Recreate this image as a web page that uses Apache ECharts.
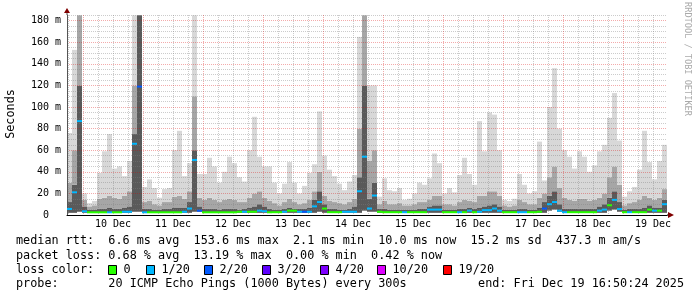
<!DOCTYPE html>
<html><head><meta charset="utf-8">
<script src="https://cdn.jsdelivr.net/npm/echarts@6/dist/echarts.min.js"></script>
<style>html,body{margin:0;padding:0;background:#fff}#c{width:697px;height:297px}</style>
</head><body><div id="c"></div>
<script>
// time axis in hours since Dec 9 00:00
const startHour = 17.6;
const endHour = 257.6;
const stepHours = 2;
const yMax = 185.3;
const dayLabels = ['10 Dec','11 Dec','12 Dec','13 Dec','14 Dec','15 Dec','16 Dec','17 Dec','18 Dec','19 Dec'];
const dayNoonHours = [36,60,84,108,132,156,180,204,228,252];
const midnightHours = [24,48,72,96,120,144,168,192,216,240];
const yLabelValues = [0,20,40,60,80,100,120,140,160,180];

const minRtt = [2,2,3,2,2,2,2,2,2,2, 2,2,2,3,3,2,2,2,2,2, 2,2,2,2,2,3,3,2,2,2, 2,2,2,2,2,2,2,2,2,2,
  2,2,2,2,2,2,2,2,2,2, 3,2,2,2,2,2,2,2,2,4, 3,3,2,2,2,2,2,2,2,2, 2,2,2,2,2,2,2,2,2,2,
  2,2,2,2,2,2,2,2,2,2, 2,2,2,2,2,2,4,5,3,2, 2,2,2,2,2,2,2,2,4,5, 3,2,2,2,2,2,2,2,2,2];
const medianRtt = [5.6,21,87,3.4,2.5,2.5,2.5,2.5,2.5,2.5, 2.5,3,3,66,119,2.5,2.5,2.5,2.5,2.5,
  2.5,2.5,2.5,3,6,51,4,2.5,2.5,2.5, 2.5,2.5,2.5,2.5,3,3,3,3,4,3.5,
  2.5,2.6,2.6,3,4,4,3,3,3,8, 12,6,2.6,2.6,2.6,3,3,3,22,54,
  6,18,3,2.6,2.6,2.6,2.6,2.6,2.6,2.6, 2.6,2.6,5,5,5,2.6,2.6,2.6,2.6,2.6,
  4,2.6,3,4.5,4.5,6,4,2.6,2.6,2.6, 2.6,2.6,2.6,2.6,3,6,10,12,4,2.6,
  2.6,2.6,2.6,2.6,2.6,2.6,4,5,9,14, 5.5,2.6,2.6,2.6,2.6,2.6,5,4,4,10];
const lossIdx = [1,1,1,1,0,0,0,0,1,0, 0,1,1,1,2,1,0,0,0,0, 0,0,0,1,1,1,2,0,0,0, 0,0,0,0,0,1,0,0,1,1,
  0,0,0,1,0,0,1,2,1,1, 1,0,0,0,0,1,1,1,1,1, 1,1,0,0,0,0,0,1,0,0, 0,0,1,1,1,0,0,0,1,0,
  1,0,1,1,1,1,1,0,0,0, 1,1,0,0,0,2,1,1,1,1, 0,0,0,0,0,0,1,1,0,1, 1,0,1,0,0,0,0,1,0,1];
const darkTop = [12,28,120,8,5,5,6,6,7,6, 6,7,8,75,185,6,6,5,5,6, 6,7,7,7,12,60,8,6,6,6, 5,6,6,6,5,6,7,8,10,8,
  6,5,5,6,7,6,6,6,7,14, 22,10,6,6,5,5,6,8,35,120, 15,30,6,6,5,5,5,5,5,5, 6,6,8,9,9,5,5,5,6,6,
  7,6,7,8,9,10,8,5,5,5, 6,6,5,5,7,12,18,22,10,6, 6,6,6,6,6,6,8,10,16,22, 12,5,6,6,6,7,9,7,7,14];
const midTop = [30,60,185,14,8,9,15,16,18,16, 15,18,22,120,185,12,13,10,9,12, 12,17,18,15,22,110,16,14,16,14,
  12,14,15,14,12,12,16,20,22,16, 13,11,9,12,15,12,10,11,14,22, 40,18,13,12,11,10,12,15,80,185,
  50,60,10,13,10,10,11,9,9,10, 12,12,14,18,18,10,10,9,12,14, 13,12,18,18,22,22,18,9,8,9,
  14,12,10,10,16,20,35,45,25,16, 14,13,15,15,13,14,16,20,35,45, 28,9,11,12,14,18,16,14,16,24];
const maxRtt = [76,153,185,20,11,13,39,59,75,43, 45,36,50,185,185,26,33,25,16,24,
  25,60,78,36,48,185,38,38,53,45, 30,40,54,48,35,31,60,91,54,45,
  45,30,20,29,49,30,20,27,39,47, 96,55,42,36,29,23,31,37,165,185,
  120,120,17,34,23,22,25,14,15,20, 30,28,34,57,48,20,25,21,37,53,
  38,28,87,59,95,93,60,14,13,15, 38,28,20,22,68,32,100,136,80,60,
  54,43,59,54,40,46,59,65,90,113, 69,17,22,26,42,78,49,33,50,65];

const lossColors = ['#26ff00','#00b8ff','#0059ff','#5e00ff','#7e00ff','#dd00ff','#ff0000'];
const lossLabels = ['0','1/20','2/20','3/20','4/20','10/20','19/20'];
const statLines = [
  'median rtt:  6.6 ms avg  153.6 ms max  2.1 ms min  10.0 ms now  15.2 ms sd  437.3 m am/s',
  'packet loss: 0.68 % avg  13.19 % max  0.00 % min  0.42 % now'
];
const lossTitle = 'loss color:';
const probeLine = 'probe:       20 ICMP Echo Pings (1000 Bytes) every 300s';
const endLine = 'end: Fri Dec 19 16:50:24 2025';
const watermark = 'RRDTOOL / TOBI OETIKER';
const yTitle = 'Seconds';

const minorX = [];
for (let h = 18; h < endHour; h += 6) if (h % 24 !== 0) minorX.push(h);
const minorY = [];
for (let v = 5; v <= 185; v += 5) if (v % 20 !== 0) minorY.push(v);

const smokeData = maxRtt.map((m, i) => [startHour + i * stepHours, minRtt[i], darkTop[i], midTop[i], m]);
const medianData = medianRtt.map((m, i) => [startHour + i * stepHours, m, lossIdx[i]]);

const smokeColors = ['#5a5a5a', '#a6a6a6', '#d8d8d8'];
const MONO = '"DejaVu Sans Mono", monospace';
const MINOR_GRID = 'rgba(128,128,128,0.4)';
const MAJOR_GRID = 'rgba(220,0,0,0.33)';

const chart = echarts.init(document.getElementById('c'), null, {renderer: 'canvas'});

const graphics = [];
graphics.push({id: 'ytitle', type: 'text', x: 10.5, y: 114, rotation: Math.PI / 2,
  style: {text: yTitle, font: '11.8px ' + MONO, fill: '#000', align: 'center', verticalAlign: 'middle'}});
graphics.push({id: 'wm', type: 'text', x: 687.5, y: 59, rotation: -Math.PI / 2,
  style: {text: watermark, font: '8.6px ' + MONO, fill: '#aaaaaa', align: 'center', verticalAlign: 'middle'}});
statLines.forEach((t, i) => graphics.push({id: 'st' + i, type: 'text', x: 16, y: 241 + i * 14.5,
  style: {text: t, font: '11.8px ' + MONO, fill: '#000', align: 'left', verticalAlign: 'middle'}}));
graphics.push({id: 'lt', type: 'text', x: 16, y: 269.5,
  style: {text: lossTitle, font: '11.8px ' + MONO, fill: '#000', align: 'left', verticalAlign: 'middle'}});
const boxX = [108, 146, 204, 262, 320, 377, 443];
lossLabels.forEach((lab, i) => {
  graphics.push({id: 'lb' + i, type: 'rect', shape: {x: boxX[i] + 0.5, y: 265.5, width: 8, height: 9},
    style: {fill: lossColors[i], stroke: '#000', lineWidth: 1}});
  graphics.push({id: 'll' + i, type: 'text', x: boxX[i] + 15.5, y: 269.5,
    style: {text: lab, font: '11.8px ' + MONO, fill: '#000', align: 'left', verticalAlign: 'middle'}});
});
graphics.push({id: 'pr', type: 'text', x: 16, y: 284,
  style: {text: probeLine, font: '11.8px ' + MONO, fill: '#000', align: 'left', verticalAlign: 'middle'}});
graphics.push({id: 'en', type: 'text', x: 684, y: 284,
  style: {text: endLine, font: '11.8px ' + MONO, fill: '#000', align: 'right', verticalAlign: 'middle'}});

const option = {
  animation: false,
  backgroundColor: '#ffffff',
  grid: {left: 67, top: 15, width: 600, height: 200, containLabel: false},
  xAxis: [
    {type: 'value', min: startHour, max: endHour, position: 'bottom', z: 4,
      axisLine: {show: true, onZero: false, lineStyle: {color: '#000', width: 1}},
      axisTick: {show: false, customValues: midnightHours},
      splitLine: {show: true, lineStyle: {color: MAJOR_GRID, width: 1, type: [1, 1]}},
      axisLabel: {show: true, customValues: dayNoonHours, margin: 4,
        formatter: v => dayLabels[dayNoonHours.indexOf(v)] || '',
        fontFamily: 'DejaVu Sans Mono', fontSize: 10, color: '#000'}},
    {type: 'value', min: startHour, max: endHour, position: 'top', z: 3,
      axisLine: {show: false}, axisLabel: {show: false},
      axisTick: {show: false, customValues: minorX},
      splitLine: {show: true, lineStyle: {color: MINOR_GRID, width: 1, type: [1, 1]}}}
  ],
  yAxis: [
    {type: 'value', min: 0, max: yMax, position: 'left', z: 4,
      axisLine: {show: true, onZero: false, lineStyle: {color: '#555', width: 1}},
      axisTick: {show: false, customValues: yLabelValues},
      splitLine: {show: true, lineStyle: {color: MAJOR_GRID, width: 1, type: [1, 1]}},
      axisLabel: {show: true, customValues: yLabelValues, margin: 6,
        formatter: v => v === 0 ? '0  ' : v + ' m',
        fontFamily: 'DejaVu Sans Mono', fontSize: 10, color: '#000'}},
    {type: 'value', min: 0, max: yMax, position: 'right', z: 3,
      axisLine: {show: false}, axisLabel: {show: false},
      axisTick: {show: false, customValues: minorY},
      splitLine: {show: true, lineStyle: {color: MINOR_GRID, width: 1, type: [1, 1]}}}
  ],
  series: [
    {type: 'custom', name: 'smoke', xAxisIndex: 0, yAxisIndex: 0, z: 1, clip: true,
      data: smokeData, encode: {x: 0, y: [1, 4]},
      renderItem: function (params, api) {
        const t = api.value(0);
        const x0 = api.coord([t, 0])[0];
        const x1 = api.coord([t + stepHours, 0])[0];
        const vals = [api.value(1), api.value(2), api.value(3), api.value(4)];
        const children = [];
        for (let k = 0; k < 3; k++) {
          const yb = api.coord([t, vals[k]])[1];
          const yt = api.coord([t, vals[k + 1]])[1];
          if (yb - yt > 0.01) children.push({type: 'rect',
            shape: {x: x0, y: yt, width: x1 - x0, height: yb - yt},
            style: {fill: smokeColors[k]}});
        }
        return {type: 'group', children: children};
      }},
    {type: 'custom', name: 'median', xAxisIndex: 0, yAxisIndex: 0, z: 6, clip: true,
      data: medianData, encode: {x: 0, y: 1},
      renderItem: function (params, api) {
        const t = api.value(0);
        const p0 = api.coord([t, api.value(1)]);
        const x1 = api.coord([t + stepHours, 0])[0];
        return {type: 'rect', shape: {x: p0[0], y: p0[1] - 1, width: x1 - p0[0], height: 2},
          style: {fill: lossColors[api.value(2)]}};
      }}
  ],
  graphic: {elements: graphics}
};
chart.setOption(option);

const pTop = chart.convertToPixel({xAxisIndex: 0, yAxisIndex: 0}, [startHour, yMax]);
const pRight = chart.convertToPixel({xAxisIndex: 0, yAxisIndex: 0}, [endHour, 0]);
chart.setOption({graphic: {elements: [
  {id: 'yline', type: 'line', shape: {x1: pTop[0], y1: pTop[1], x2: pTop[0], y2: pTop[1] - 3}, style: {stroke: '#555', lineWidth: 1}, z: 10},
  {id: 'xline', type: 'line', shape: {x1: pRight[0], y1: pRight[1], x2: pRight[0] + 2, y2: pRight[1]}, style: {stroke: '#000', lineWidth: 1}, z: 10},
  {id: 'yarrow', type: 'polygon', shape: {points: [[pTop[0] - 3, pTop[1] - 2], [pTop[0] + 3, pTop[1] - 2], [pTop[0], pTop[1] - 7]]}, style: {fill: '#800000'}, z: 10},
  {id: 'xarrow', type: 'polygon', shape: {points: [[pRight[0] + 1, pRight[1] - 3], [pRight[0] + 1, pRight[1] + 3], [pRight[0] + 7, pRight[1]]]}, style: {fill: '#800000'}, z: 10}
]}});
</script></body></html>
